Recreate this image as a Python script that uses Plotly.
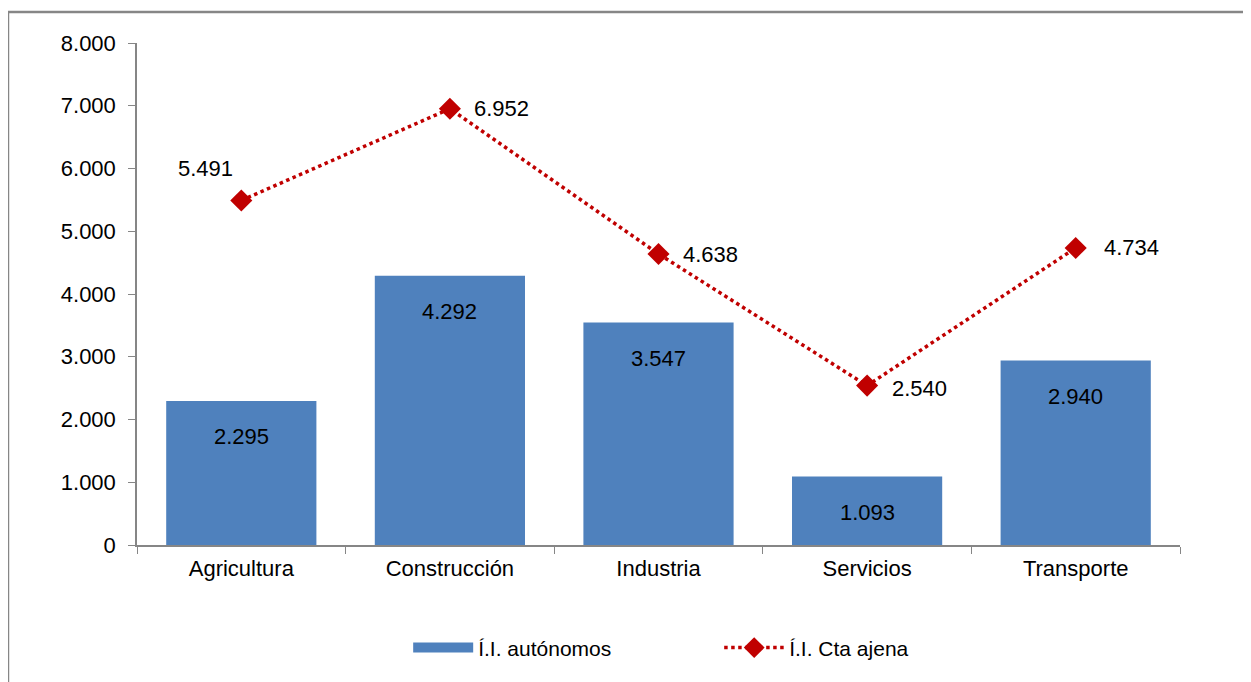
import plotly.graph_objects as go

# Data
categorias = ["Agricultura", "Construcción", "Industria", "Servicios", "Transporte"]
autonomos = [2295, 4292, 3547, 1093, 2940]
cta_ajena = [5491, 6952, 4638, 2540, 4734]
y_ticks = [0, 1000, 2000, 3000, 4000, 5000, 6000, 7000, 8000]
y_tick_labels = ["0", "1.000", "2.000", "3.000", "4.000", "5.000", "6.000", "7.000", "8.000"]


def fmt(v):
    return f"{v:,}".replace(",", ".")


FONT = "Liberation Sans, Arial, sans-serif"
AXIS_GREY = "#868686"
BLUE = "#4F81BD"
RED = "#C00000"

fig = go.Figure()

fig.add_trace(go.Bar(
    x=categorias,
    y=autonomos,
    name="Í.I. autónomos",
    marker=dict(color=BLUE, line=dict(width=0)),
    width=0.72,
    showlegend=False,
))

# legend-only entry so the swatch is a wide block like the original
fig.add_trace(go.Scatter(
    x=[None], y=[None],
    name="Í.I. autónomos",
    mode="lines",
    line=dict(color=BLUE, width=16),
))

fig.add_trace(go.Scatter(
    x=categorias,
    y=cta_ajena,
    name="Í.I. Cta ajena",
    mode="lines+markers",
    line=dict(color=RED, width=3.5, dash="dot"),
    marker=dict(symbol="diamond", size=17, color=RED),
))

# data labels for bars (inside, near the top)
for c, v in zip(categorias, autonomos):
    fig.add_annotation(x=c, y=v, text=fmt(v), showarrow=False, yshift=-36,
                       font=dict(size=22, color="#000000", family=FONT))

# data labels for the line
line_shifts = [(-36, 32), (52, 0), (52, -1), (52, -3), (56, 0)]
for c, v, (dx, dy) in zip(categorias, cta_ajena, line_shifts):
    fig.add_annotation(x=c, y=v, text=fmt(v), showarrow=False, xshift=dx, yshift=dy,
                       font=dict(size=22, color="#000000", family=FONT))

# outer chart border
fig.add_shape(type="rect", xref="paper", yref="paper",
              x0=-0.1237, x1=1.2, y0=-0.4, y1=1.0618,
              line=dict(color=AXIS_GREY, width=2.5), layer="below")

fig.update_layout(
    width=1243,
    height=674,
    paper_bgcolor="white",
    plot_bgcolor="white",
    font=dict(family=FONT, size=22, color="#000000"),
    margin=dict(l=129, r=71, t=35, b=137),
    bargap=0.28,
    showlegend=True,
    legend=dict(
        orientation="h",
        x=0.26, xanchor="left",
        y=-0.205, yanchor="middle",
        font=dict(size=21, family=FONT),
        entrywidth=236,
        itemwidth=60,
    ),
)

fig.update_xaxes(
    showline=True, linecolor=AXIS_GREY, linewidth=1.5,
    ticks="outside", tickson="boundaries", ticklen=7, tickcolor=AXIS_GREY,
    showgrid=False, tickfont=dict(size=22), ticklabelstandoff=3,
)
fig.update_yaxes(
    range=[0, 8000],
    tickvals=y_ticks, ticktext=y_tick_labels,
    showline=True, linecolor=AXIS_GREY, linewidth=1.5,
    ticks="outside", ticklen=7, tickcolor=AXIS_GREY,
    showgrid=False, zeroline=False, tickfont=dict(size=22),
    ticklabelstandoff=8,
)

fig.write_html("out.html")
